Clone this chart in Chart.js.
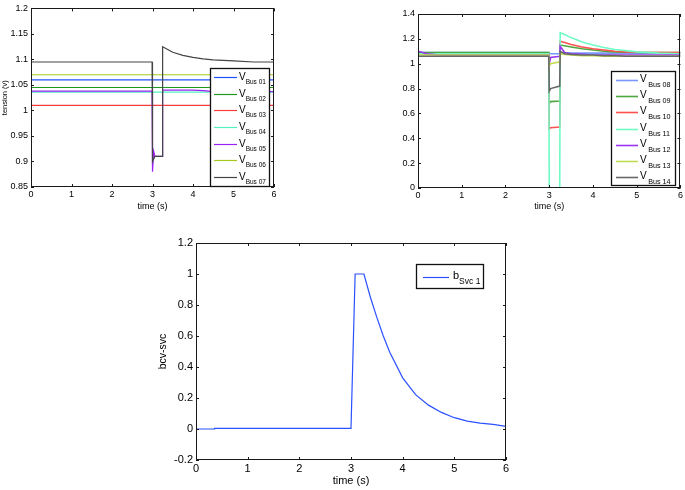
<!DOCTYPE html>
<html>
<head>
<meta charset="utf-8">
<script src="https://cdn.jsdelivr.net/npm/chart.js@4.4.1/dist/chart.umd.min.js"></script>
<style>
  body { margin: 0; background: #fff; }
  canvas { position: absolute; }
</style>
</head>
<body>
<canvas id="c1" width="320" height="212" style="left:0;top:0"></canvas>
<canvas id="c2" width="315" height="212" style="left:370px;top:0"></canvas>
<canvas id="c3" width="380" height="265" style="left:150px;top:225px"></canvas>
<script>
const FONT = "'Liberation Sans', Arial, sans-serif";

// top left: bus voltages 01-07
const t1 = [0, 2.99, 3.0, 3.03, 3.06, 3.24, 3.25, 3.5, 3.75, 4.0, 4.25, 4.5, 5.0, 5.5, 6.0];
const bus01 = [1.06, 1.06, 1.06, 1.06, 1.06, 1.06, 1.06, 1.06, 1.06, 1.06, 1.06, 1.06, 1.06, 1.06, 1.06];
const bus02 = [1.045, 1.045, 1.045, 1.045, 1.045, 1.045, 1.045, 1.045, 1.045, 1.045, 1.045, 1.045, 1.045, 1.045, 1.045];
const bus03 = [1.01, 1.01, 1.01, 1.01, 1.01, 1.01, 1.01, 1.01, 1.01, 1.01, 1.01, 1.01, 1.01, 1.01, 1.01];
const bus04 = [1.036, 1.036, 1.036, 1.036, 1.036, 1.036, 1.036, 1.036, 1.036, 1.036, 1.036, 1.036, 1.036, 1.036, 1.036];
const bus05 = [1.038, 1.038, 0.88, 0.92, 0.91, 0.91, 1.04, 1.04, 1.04, 1.04, 1.039, 1.037, 1.037, 1.037, 1.037];
const bus06 = [1.07, 1.07, 1.07, 1.07, 1.07, 1.07, 1.07, 1.07, 1.07, 1.07, 1.07, 1.07, 1.07, 1.07, 1.07];
const bus07 = [1.095, 1.095, 0.9, 0.905, 0.91, 0.91, 1.125, 1.114, 1.108, 1.104, 1.101, 1.099, 1.097, 1.095, 1.095];

// top right: bus voltages 08-14
const t2 = [0, 0.1, 0.2, 0.5, 2.99, 3.0, 3.03, 3.24, 3.25, 3.35, 3.5, 3.75, 4.0, 4.25, 4.5, 4.75, 5.0, 5.5, 6.0];
const bus08 = [1.09, 1.09, 1.09, 1.09, 1.09, 1.08, 1.08, 1.08, 1.09, 1.085, 1.085, 1.085, 1.085, 1.085, 1.085, 1.085, 1.085, 1.085, 1.085];
const bus09 = [1.09, 1.09, 1.09, 1.09, 1.09, 0.68, 0.695, 0.7, 1.15, 1.145, 1.135, 1.12, 1.11, 1.1, 1.095, 1.092, 1.09, 1.09, 1.09];
const bus10 = [1.08, 1.08, 1.08, 1.08, 1.08, 0.475, 0.485, 0.49, 1.18, 1.17, 1.155, 1.135, 1.12, 1.11, 1.1, 1.095, 1.092, 1.09, 1.09];
const bus11 = [1.08, 1.08, 1.08, 1.08, 1.08, 0, 0, 0, 1.25, 1.235, 1.21, 1.175, 1.15, 1.13, 1.115, 1.105, 1.095, 1.085, 1.08];
const bus12 = [1.1, 1.09, 1.08, 1.07, 1.07, 1.0, 1.05, 1.06, 1.14, 1.09, 1.08, 1.075, 1.07, 1.07, 1.07, 1.07, 1.07, 1.07, 1.07];
const bus13 = [1.07, 1.07, 1.07, 1.07, 1.07, 0.98, 1.0, 1.015, 1.08, 1.075, 1.07, 1.065, 1.065, 1.06, 1.06, 1.06, 1.06, 1.06, 1.06];
const bus14 = [1.06, 1.06, 1.06, 1.06, 1.06, 0.78, 0.8, 0.82, 1.1, 1.08, 1.075, 1.07, 1.07, 1.065, 1.065, 1.06, 1.06, 1.06, 1.06];

// bottom: SVC susceptance
const t3 = [0, 0.35, 0.36, 3.0, 3.08, 3.25, 3.375, 3.5, 3.625, 3.75, 4.0, 4.25, 4.5, 4.75, 5.0, 5.25, 5.5, 5.75, 6.0];
const bSvc1 = [0, 0, 0.004, 0.004, 1, 1, 0.85, 0.72, 0.6, 0.495, 0.33, 0.222, 0.154, 0.107, 0.073, 0.051, 0.038, 0.03, 0.017];

const names1 = ['Bus 01', 'Bus 02', 'Bus 03', 'Bus 04', 'Bus 05', 'Bus 06', 'Bus 07'];
const names2 = ['Bus 08', 'Bus 09', 'Bus 10', 'Bus 11', 'Bus 12', 'Bus 13', 'Bus 14'];
const colors1 = ['#1f50ff', '#1f9a1f', '#ff3c3c', '#50f0c0', '#9a20f5', '#a6c81e', '#454545'];
const colors2 = ['#7a97ff', '#4ea63e', '#ff5050', '#70fbc4', '#9a34f0', '#c2dc52', '#686868'];

// inward tick marks and box, like a matlab axes
const matlabAxes = {
  id: 'matlabAxes',
  afterDatasetsDraw(chart) {
    const { ctx, chartArea: a, scales: { x, y } } = chart;
    const len = 3;
    ctx.save();
    ctx.strokeStyle = '#1a1a1a';
    ctx.lineWidth = 1;
    ctx.beginPath();
    x.ticks.forEach(t => {
      const p = Math.round(x.getPixelForValue(t.value)) + 0.5;
      ctx.moveTo(p, a.bottom); ctx.lineTo(p, a.bottom - len);
      ctx.moveTo(p, a.top); ctx.lineTo(p, a.top + len);
    });
    y.ticks.forEach(t => {
      const p = Math.round(y.getPixelForValue(t.value)) + 0.5;
      ctx.moveTo(a.left, p); ctx.lineTo(a.left + len, p);
      ctx.moveTo(a.right, p); ctx.lineTo(a.right - len, p);
    });
    ctx.stroke();
    ctx.strokeRect(Math.round(a.left) + 0.5, Math.round(a.top) + 0.5, Math.round(a.width) - 1, Math.round(a.height) - 1);
    ctx.restore();
  }
};

// legend with subscripted names
const subLegend = {
  id: 'subLegend',
  afterDraw(chart, args, o) {
    if (!o.main) return;
    const { ctx, chartArea: a } = chart;
    const bx = Math.round(a.left + o.left), by = Math.round(a.top + o.top);
    ctx.save();
    ctx.fillStyle = '#fff';
    ctx.fillRect(bx, by, o.width, o.height);
    ctx.strokeStyle = '#111';
    ctx.lineWidth = 1.3;
    ctx.strokeRect(bx + 0.5, by + 0.5, o.width, o.height);
    chart.data.datasets.forEach((ds, i) => {
      const ly = Math.round(by + o.firstRow + i * o.rowH) + 0.5;
      ctx.strokeStyle = ds.borderColor;
      ctx.lineWidth = ds.borderWidth;
      ctx.beginPath();
      ctx.moveTo(bx + o.lineX[0], ly);
      ctx.lineTo(bx + o.lineX[1], ly);
      ctx.stroke();
      ctx.fillStyle = '#000';
      ctx.textBaseline = 'alphabetic';
      ctx.font = o.mainFont;
      ctx.fillText(o.main, bx + o.textX, ly + o.mainDy);
      const w = ctx.measureText(o.main).width;
      ctx.font = o.subFont;
      ctx.fillText(ds.label, bx + o.textX + w + o.subDx, ly + o.subDy);
    });
    ctx.restore();
  }
};

function lineSet(t, vals, label, color, width, order) {
  return {
    label: label,
    data: t.map((x, i) => ({ x: x, y: vals[i] })),
    borderColor: color,
    borderWidth: width,
    pointRadius: 0,
    tension: 0,
    order: order
  };
}

function makeChart(id, datasets, c) {
  return new Chart(document.getElementById(id), {
    type: 'line',
    data: { datasets: datasets },
    plugins: [matlabAxes, subLegend],
    options: {
      responsive: false,
      animation: false,
      layout: { padding: c.padding },
      plugins: {
        legend: { display: false },
        tooltip: { enabled: false },
        subLegend: c.legend
      },
      scales: {
        x: {
          type: 'linear',
          min: 0,
          max: 6,
          grid: { display: false, drawTicks: false },
          border: { display: false },
          ticks: { stepSize: 1, autoSkip: false, maxRotation: 0, padding: 2, color: '#000', font: { family: FONT, size: c.tickSize } },
          title: { display: true, text: 'time (s)', color: '#000', padding: 0, font: { family: FONT, size: c.titleSize } },
          afterFit: s => { s.height = c.xHeight; }
        },
        y: {
          min: c.yMin,
          max: c.yMax,
          grid: { display: false, drawTicks: false },
          border: { display: false },
          ticks: {
            stepSize: c.yStep, autoSkip: false, padding: 3, color: '#000',
            font: { family: FONT, size: c.tickSize },
            callback: v => String(Math.round(v * 100) / 100)
          },
          title: {
            display: !!c.yTitle, text: c.yTitle || '', color: '#000',
            padding: { top: c.yTitlePad || 0, bottom: 0 },
            font: { family: FONT, size: c.yTitleSize || 8 }
          },
          afterFit: s => { s.width = c.yWidth; }
        }
      }
    }
  });
}

const vals1 = [bus01, bus02, bus03, bus04, bus05, bus06, bus07];
const vals2 = [bus08, bus09, bus10, bus11, bus12, bus13, bus14];

makeChart('c1', vals1.map((v, i) => lineSet(t1, v, names1[i], colors1[i], 1.2, 6 - i)), {
  padding: { left: 0, right: 46, top: 6, bottom: 0 },
  yMin: 0.85, yMax: 1.2, yStep: 0.05,
  yWidth: 31, xHeight: 25, tickSize: 9, titleSize: 9,
  yTitle: 'tension (v)', yTitleSize: 7.5, yTitlePad: 0,
  legend: {
    main: 'V', left: 179, top: 60, width: 59, height: 118,
    firstRow: 9, rowH: 16.67, lineX: [4, 27], textX: 29,
    mainFont: '10px ' + FONT, subFont: '6.5px ' + FONT,
    mainDy: 2, subDy: 6, subDx: 0
  }
});

makeChart('c2', vals2.map((v, i) => lineSet(t2, v, names2[i], colors2[i], 1.6, 6 - i)), {
  padding: { left: 0, right: 4, top: 14, bottom: 0 },
  yMin: 0, yMax: 1.4, yStep: 0.2,
  yWidth: 48, xHeight: 24, tickSize: 9, titleSize: 9,
  legend: {
    main: 'V', left: 193, top: 57, width: 64, height: 114,
    firstRow: 9, rowH: 16.2, lineX: [5, 27], textX: 29,
    mainFont: '10px ' + FONT, subFont: '7.2px ' + FONT,
    mainDy: 1.5, subDy: 6, subDx: 1.5
  }
});

makeChart('c3', [lineSet(t3, bSvc1, 'Svc 1', '#2a50ff', 1.2, 0)], {
  padding: { left: 0, right: 24, top: 18, bottom: 2 },
  yMin: -0.2, yMax: 1.2, yStep: 0.2,
  yWidth: 46, xHeight: 28, tickSize: 11, titleSize: 11,
  yTitle: 'bcv-svc', yTitleSize: 10.5, yTitlePad: 7,
  legend: {
    main: 'b', left: 220, top: 21, width: 67, height: 24,
    firstRow: 13, rowH: 16, lineX: [7, 33], textX: 37,
    mainFont: '11px ' + FONT, subFont: '8.5px ' + FONT,
    mainDy: 1.5, subDy: 6.5, subDx: 0
  }
});
</script>
</body>
</html>
